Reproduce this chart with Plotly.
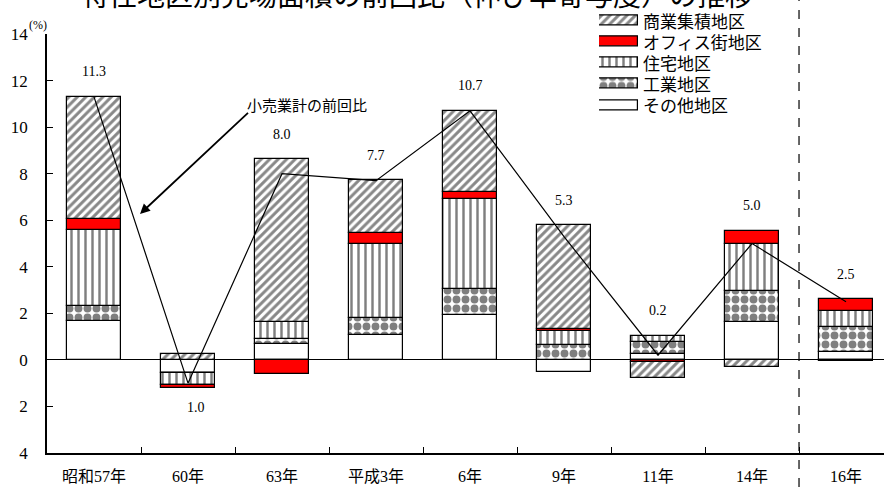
import plotly.graph_objects as go

categories = ["昭和57年", "60年", "63年", "平成3年", "6年", "9年", "11年", "14年", "16年"]
series_names = ["その他地区", "工業地区", "住宅地区", "オフィス街地区", "商業集積地区"]
sonota = [1.65, -0.55, 0.69, 1.07, 1.93, -0.50, 0.26, 1.64, 0.33]
kogyo = [0.65, -0.03, 0.21, 0.72, 1.12, 0.64, 0.53, 1.32, 1.10]
jutaku = [3.30, -0.49, 0.72, 3.21, 3.85, 0.61, 0.24, 2.04, 0.69]
office = [0.45, -0.12, -0.61, 0.46, 0.32, 0.07, -0.11, 0.55, 0.48]
shogyo = [5.25, 0.24, 7.00, 2.26, 3.48, 4.47, -0.68, -0.31, -0.05]
retail_total = [11.3, -1.0, 8.0, 7.7, 10.7, 5.3, 0.2, 5.0, 2.5]
y_ticks = [-4, -2, 0, 2, 4, 6, 8, 10, 12, 14]

series_values = [sonota, kogyo, jutaku, office, shogyo]
styles = [
    dict(color="white", pattern=None),
    dict(color="white", pattern=dict(shape=".", fgcolor="black", bgcolor="white", size=9, solidity=0.6)),
    dict(color="white", pattern=dict(shape="|", fgcolor="black", bgcolor="white", size=7, solidity=0.35)),
    dict(color="#ff0000", pattern=None),
    dict(color="white", pattern=dict(shape="/", fgcolor="#111111", bgcolor="white", size=6, solidity=0.5)),
]

SERIF = "Liberation Serif, Noto Sans CJK JP"
SANS = "Noto Sans CJK JP"
W, H = 884, 487

fig = go.Figure()

for name, vals, st in zip(series_names, series_values, styles):
    marker = dict(color=st["color"], line=dict(color="black", width=1.2))
    if st["pattern"]:
        marker["pattern"] = st["pattern"]
    fig.add_trace(go.Bar(x=categories, y=vals, name=name, marker=marker,
                         width=0.58, showlegend=False, xaxis="x", yaxis="y"))

fig.add_trace(go.Scatter(x=categories, y=retail_total, mode="lines",
                         line=dict(color="black", width=1.2), showlegend=False,
                         xaxis="x", yaxis="y"))

# value labels
for i, c in enumerate(categories):
    pos = sum(v[i] for v in series_values if v[i] > 0)
    neg = sum(v[i] for v in series_values if v[i] < 0)
    t = retail_total[i]
    if t >= 0:
        fig.add_annotation(x=c, y=max(pos, t), yshift=25, text=f"{abs(t):.1f}",
                           showarrow=False, font=dict(family=SERIF, size=14, color="black"),
                           xref="x", yref="y")
    else:
        fig.add_annotation(x=c, y=min(neg, t), yshift=-20, xshift=8, text=f"{abs(t):.1f}",
                           showarrow=False, font=dict(family=SERIF, size=14, color="black"),
                           xref="x", yref="y")

# legend built from small bars on a hidden axis
legend_order = [4, 3, 2, 1, 0]
for k, idx in enumerate(legend_order):
    st = styles[idx]
    marker = dict(color=st["color"], line=dict(color="black", width=1.2))
    if st["pattern"]:
        marker["pattern"] = st["pattern"]
    fig.add_trace(go.Bar(x=[1], y=[k], orientation="h", marker=marker, width=0.47,
                         showlegend=False, xaxis="x2", yaxis="y2", hoverinfo="skip"))
    fig.add_annotation(x=641 / W, y=k, xref="paper", yref="y2", text=series_names[idx],
                       xanchor="left", yanchor="middle", showarrow=False,
                       font=dict(family=SANS, size=17, color="black"))

# title (partially cut at top)
fig.add_annotation(x=417 / W, y=1, xref="paper", yref="paper", yanchor="middle", yshift=6,
                   text="特性地区別売場面積の前回比（伸び率寄与度）の推移", showarrow=False,
                   font=dict(family=SANS, size=28, color="black"))
# unit
fig.add_annotation(x=27 / W, y=1 - 16 / H, xref="paper", yref="paper", text="(%)",
                   showarrow=False, font=dict(family=SERIF, size=12, color="black"))
# arrow note
fig.add_annotation(x=307 / W, y=1 - 92 / H, xref="paper", yref="paper", text="小売業計の前回比",
                   showarrow=False, font=dict(family=SANS, size=15, color="black"))
fig.add_annotation(x=140 / W, y=1 - 214 / H, xref="paper", yref="paper", text=" ",
                   showarrow=True, arrowhead=2, arrowsize=1.1, arrowwidth=1.8, arrowcolor="black",
                   ax=111, ay=-104)

# dashed separator
fig.add_shape(type="line", xref="x", yref="paper", x0=7.5, x1=7.5, y0=0, y1=1,
              line=dict(color="black", width=1.2, dash="dash"))

fig.update_layout(
    width=W, height=H,
    margin=dict(l=0, r=0, t=0, b=0, autoexpand=False),
    paper_bgcolor="white", plot_bgcolor="rgba(0,0,0,0)",
    barmode="relative", bargap=0,
    showlegend=False,
    xaxis=dict(domain=[47 / W, 1], type="category", range=[-0.5, 8.404],
               showline=True, linecolor="black", linewidth=1.5,
               ticks="inside", ticklen=6, tickwidth=1.3, tickcolor="black",
               tickson="boundaries", showgrid=False, zeroline=False, automargin=False,
               tickfont=dict(family=SERIF, size=16, color="black"),
               ticklabelstandoff=8, anchor="y"),
    yaxis=dict(domain=[1 - 453 / H, 1 - 34 / H], range=[-4, 14],
               tickvals=y_ticks, ticktext=[str(abs(v)) for v in y_ticks],
               showline=True, linecolor="black", linewidth=1.5,
               ticks="inside", ticklen=6, tickwidth=1.3, tickcolor="black",
               showgrid=False, zeroline=True, zerolinecolor="black", zerolinewidth=1.2,
               tickfont=dict(family=SERIF, size=17, color="black"), automargin=False,
               ticklabelstandoff=14, anchor="x"),
    xaxis2=dict(domain=[599 / W, 638 / W], range=[0, 1], visible=False, anchor="y2"),
    yaxis2=dict(domain=[1 - 115.6 / H, 1 - 9.4 / H], range=[4.5, -0.5], visible=False, anchor="x2"),
)

fig.write_html("out.html")
